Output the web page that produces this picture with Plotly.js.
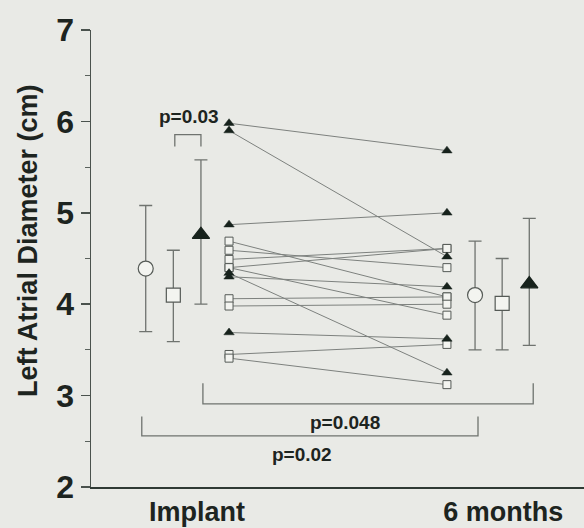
<!DOCTYPE html>
<html>
<head>
<meta charset="utf-8">
<script src="https://cdn.plot.ly/plotly-3.0.1.min.js"></script>
<style>
  html, body { margin: 0; padding: 0; background: #e9eae6; }
  #chart { width: 584px; height: 528px; }
</style>
</head>
<body>
<div id="chart"></div>
<script>
// ---- data ----
const tickLabels = ['Implant', '6 months'];

// group means with upper / lower error limits (Implant, 6 months)
const circleMean = [4.39, 4.10];
const circleHi   = [5.08, 4.69];
const circleLo   = [3.70, 3.50];

const squareMean = [4.10, 4.01];
const squareHi   = [4.59, 4.50];
const squareLo   = [3.59, 3.50];

const triMean = [4.76, 4.22];
const triHi   = [5.58, 4.94];
const triLo   = [4.00, 3.55];

// individual patients: implant -> 6 months
const sqImplant    = [4.69, 4.59, 4.49, 4.40, 4.40, 4.06, 3.98, 3.45, 3.41];
const sqSixMonths  = [4.08, 4.40, 4.61, 4.61, 3.88, 4.08, 4.00, 3.56, 3.12];
const triImplant   = [5.98, 5.90, 4.87, 4.30, 4.34, 3.69];
const triSixMonths = [5.68, 4.52, 5.00, 4.19, 3.25, 3.62];

// p-value labels
const pLabels = ['p=0.03', 'p=0.048', 'p=0.02'];

// ---- layout positions (x in axis units) ----
const xCircle = [1.11, 7.79];
const xSquare = [1.67, 8.34];
const xTri    = [2.23, 8.89];
const xIndiv  = [2.80, 7.22];
const xTicks  = [2.15, 8.36];

const brackets = [
  {x0: 1.70, x1: 2.23, yBar: 5.855, yLeg: 5.725},
  {x0: 2.27, x1: 8.97, yBar: 2.91,  yLeg: 3.135},
  {x0: 1.03, x1: 7.85, yBar: 2.56,  yLeg: 2.77}
];
const pPos = [
  {x: 1.99, y: 6.05},
  {x: 5.15, y: 2.71},
  {x: 4.27, y: 2.355}
];

const TXT = '#1d2420';
const GREY = '#6f736f';
const FONT = 'Liberation Sans, Arial, Helvetica, sans-serif';

// ---- build traces ----
function pairLines(a, b) {
  const xs = [], ys = [];
  for (let i = 0; i < a.length; i++) {
    xs.push(xIndiv[0], xIndiv[1], null);
    ys.push(a[i], b[i], null);
  }
  return {xs, ys};
}
const sqL = pairLines(sqImplant, sqSixMonths);
const trL = pairLines(triImplant, triSixMonths);

function indivPoints(a, b) {
  const xs = [], ys = [];
  for (let i = 0; i < a.length; i++) { xs.push(xIndiv[0]); ys.push(a[i]); }
  for (let i = 0; i < b.length; i++) { xs.push(xIndiv[1]); ys.push(b[i]); }
  return {xs, ys};
}
const sqP = indivPoints(sqImplant, sqSixMonths);
const trP = indivPoints(triImplant, triSixMonths);

function meanTrace(xs, mean, hi, lo, symbol, size, fill, lineCol) {
  return {
    type: 'scatter', mode: 'markers', x: xs, y: mean,
    marker: {symbol: symbol, size: size, color: fill, line: {color: lineCol, width: 1.2}},
    error_y: {
      type: 'data', symmetric: false,
      array: hi.map((h, i) => h - mean[i]),
      arrayminus: lo.map((l, i) => mean[i] - l),
      color: GREY, thickness: 1.3, width: 6.5
    },
    hoverinfo: 'y', showlegend: false, cliponaxis: false
  };
}

const traces = [
  {type: 'scatter', mode: 'lines', x: sqL.xs.concat(trL.xs), y: sqL.ys.concat(trL.ys),
   line: {color: '#7d817e', width: 1}, hoverinfo: 'skip', showlegend: false},
  {type: 'scatter', mode: 'markers', x: sqP.xs, y: sqP.ys,
   marker: {symbol: 'square', size: 8, color: '#f3f4f0', line: {color: '#555a56', width: 1}},
   showlegend: false, cliponaxis: false},
  {type: 'scatter', mode: 'markers', x: trP.xs, y: trP.ys,
   marker: {symbol: 'triangle-up', size: 9, color: '#17221c', line: {color: '#17221c', width: 0.5}},
   showlegend: false, cliponaxis: false},
  meanTrace(xCircle, circleMean, circleHi, circleLo, 'circle', 15, '#f3f4f0', '#555a56'),
  meanTrace(xSquare, squareMean, squareHi, squareLo, 'square', 14, '#f3f4f0', '#555a56'),
  meanTrace(xTri, triMean, triHi, triLo, 'triangle-up', 15, '#17221c', '#17221c')
];

const shapes = brackets.map(b => ({
  type: 'path', xref: 'x', yref: 'y',
  path: `M${b.x0},${b.yLeg} L${b.x0},${b.yBar} L${b.x1},${b.yBar} L${b.x1},${b.yLeg}`,
  line: {color: GREY, width: 1.3}
}));

const annotations = pLabels.map((t, i) => ({
  text: t, x: pPos[i].x, y: pPos[i].y, xref: 'x', yref: 'y',
  showarrow: false, xanchor: 'center', yanchor: 'middle',
  font: {family: FONT, size: 19, weight: 700, color: TXT}
}));
annotations.push({
  text: 'Left Atrial Diameter (cm)', xref: 'paper', yref: 'paper',
  x: -0.128, y: 0.54, textangle: -90, showarrow: false,
  xanchor: 'center', yanchor: 'middle',
  font: {family: FONT, size: 27, weight: 700, color: TXT}
});

const layout = {
  width: 584, height: 528,
  margin: {l: 91, r: 0, t: 30, b: 41, pad: 0},
  paper_bgcolor: '#e9eae6', plot_bgcolor: '#e9eae6',
  font: {family: FONT, color: TXT},
  showlegend: false,
  xaxis: {
    range: [0, 10], showgrid: false, zeroline: false,
    showline: true, linecolor: '#2f3a34', linewidth: 2,
    ticks: '', tickvals: xTicks, ticktext: tickLabels,
    tickfont: {family: FONT, size: 27, weight: 700, color: TXT},
    fixedrange: true
  },
  yaxis: {
    range: [2, 7], dtick: 1, showgrid: false, zeroline: false,
    showline: true, linecolor: '#4a524d', linewidth: 1.5,
    ticks: 'outside', ticklen: 9, tickwidth: 1.5, tickcolor: '#4a524d',
    tickfont: {family: FONT, size: 32, weight: 700, color: TXT},
    minor: {dtick: 0.5, ticks: 'outside', ticklen: 5, tickwidth: 1.2, tickcolor: '#5a625d'},
    fixedrange: true
  },
  shapes: shapes,
  annotations: annotations
};

Plotly.newPlot('chart', traces, layout, {displayModeBar: false, staticPlot: true});
</script>
</body>
</html>
